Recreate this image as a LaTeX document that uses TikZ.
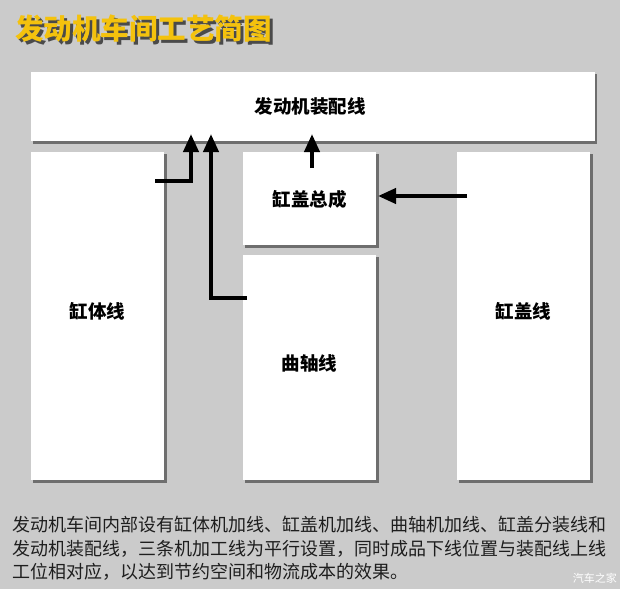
\documentclass[tikz,border=0pt]{standalone}
\usepackage{fontspec}
\newfontfamily\cjk{Noto Sans CJK SC}
\usetikzlibrary{arrows.meta}
\definecolor{bg}{HTML}{CBCBCB}
\definecolor{ttl}{HTML}{F4C20D}
\definecolor{shd}{HTML}{4A4A4A}
\definecolor{txt}{HTML}{1E1E1E}
\tikzset{
  panel/.style={fill=white, draw=none},
  panelshadow/.style={fill=shd!80},
  lbl/.style={font=\cjk\bfseries\fontsize{18.5}{18.5}\selectfont, text=black},
  flow/.style={line width=4pt, -{Triangle[length=18pt,width=15pt]}},
  body/.style={anchor=west, inner sep=0pt, font=\cjk\fontsize{18}{18}\selectfont, text=txt},
}
\begin{document}
\begin{tikzpicture}[x=1pt,y=-1pt]
\fill[bg] (0,0) rectangle (620,589);
\useasboundingbox (0,0) rectangle (620,589);
% title
\node[anchor=west, inner sep=0pt, font=\cjk\bfseries\fontsize{28.5}{28.5}\selectfont, text=shd] at (18,31.5) {发动机车间工艺简图};
\node[anchor=west, inner sep=0pt, font=\cjk\bfseries\fontsize{28.5}{28.5}\selectfont, text=ttl] (title) at (15,28.5) {发动机车间工艺简图};
% shadows
\fill[panelshadow] (33,74) rectangle (597,143.5);
\fill[panelshadow] (33,154) rectangle (166.5,482.5);
\fill[panelshadow] (245,154) rectangle (378.5,247.5);
\fill[panelshadow] (245,257) rectangle (378.5,482.5);
\fill[panelshadow] (459,154) rectangle (592.5,482.5);
% panels
\fill[panel] (31,72) rectangle (595,141);
\node[lbl] (asm) at (310,106.5) {发动机装配线};
\fill[panel] (31,152) rectangle (164,480);
\node[lbl] (block) at (97.5,311) {缸体线};
\fill[panel] (243,152) rectangle (376,245);
\node[lbl] (headasm) at (309.5,199) {缸盖总成};
\fill[panel] (243,255) rectangle (376,480);
\node[lbl] (crank) at (309.5,363) {曲轴线};
\fill[panel] (457,152) rectangle (590,480);
\node[lbl] (head) at (523.5,311) {缸盖线};
% connector coordinates
\coordinate (a1s) at (155,181);
\coordinate (a1c) at (191,181);
\coordinate (a1e) at (191,134);
\coordinate (a2s) at (247,298);
\coordinate (a2c) at (211,298);
\coordinate (a2e) at (211,134);
\coordinate (a3s) at (312,168);
\coordinate (a3e) at (312,134);
\coordinate (a4s) at (467,196);
\coordinate (a4e) at (378,196);
\draw[flow] (a1s) -- (a1c) -- (a1e);
\draw[flow] (a2s) -- (a2c) -- (a2e);
\draw[flow] (a3s) -- (a3e);
\draw[flow] (a4s) -- (a4e);
% description
\node[body] (t1) at (12,525) {发动机车间内部设有缸体机加线、缸盖机加线、曲轴机加线、缸盖分装线和};
\node[body] (t2) at (12,549) {发动机装配线，三条机加工线为平行设置，同时成品下线位置与装配线上线};
\node[body] (t3) at (12,572) {工位相对应，以达到节约空间和物流成本的效果。};
\node[anchor=east, inner sep=0pt, font=\cjk\fontsize{11}{11}\selectfont, text=white] (wm) at (617,578) {汽车之家};
\end{tikzpicture}
\end{document}
